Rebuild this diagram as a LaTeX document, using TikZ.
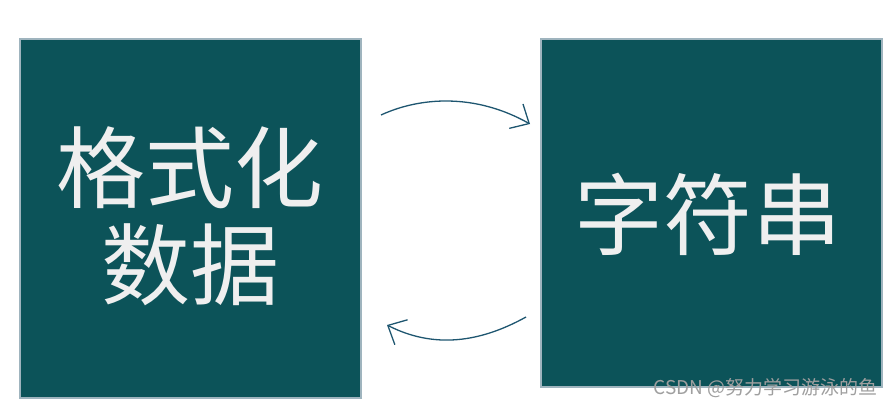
\documentclass[tikz,border=0pt]{standalone}
\usepackage{fontspec}
\newfontfamily\cjk{Noto Sans CJK SC}
\usetikzlibrary{arrows.meta}
\definecolor{teal0}{HTML}{0C5359}
\definecolor{edge0}{HTML}{9FB4BE}
\definecolor{arr}{HTML}{1E5670}
\definecolor{txt}{HTML}{EFEFEF}
\tikzset{
  box/.style={draw=edge0, line width=1.2pt, fill=teal0, inner sep=0pt},
  bigtext/.style={text=txt, font=\cjk\fontsize{89}{97}\selectfont, align=center},
  curved/.style={draw=arr, line width=1.3pt, -{Straight Barb[length=15pt, width=28pt, line width=1.3pt]}},
}
\begin{document}
\begin{tikzpicture}[x=1pt,y=-1pt]
\useasboundingbox (0,0) rectangle (894,408);
\path[box] (20,39) rectangle (361,398);
\path[box] (541,39) rectangle (882,387);
\node[bigtext] (left) at (190,216) {格式化\\数据};
\node[bigtext] (right) at (708,214) {字符串};
\coordinate (a1) at (381,115);
\coordinate (a2) at (530,124);
\coordinate (b1) at (526,317);
\coordinate (b2) at (387,325);
\draw[curved] (a1) .. controls (420,97) and (475,93) .. (a2);
\draw[curved] (b1) .. controls (488,338) and (440,352) .. (b2);
\node[font=\cjk\fontsize{19}{19}\selectfont, text=gray!75, anchor=east, inner sep=0pt] (wm) at (878,388) {CSDN @努力学习游泳的鱼};
\end{tikzpicture}
\end{document}
